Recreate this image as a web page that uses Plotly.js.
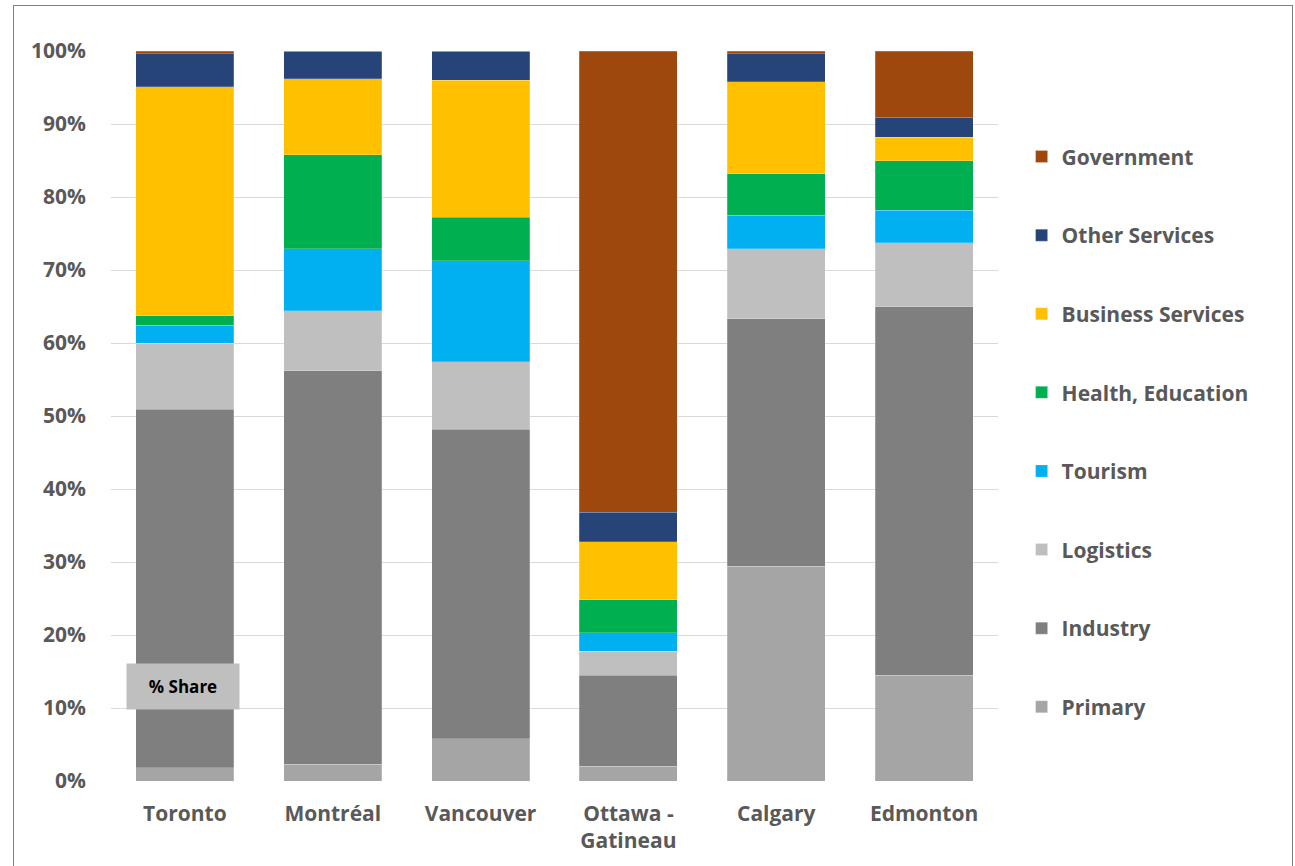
<!DOCTYPE html>
<html>
<head>
<meta charset="utf-8">
<script src="https://cdn.plot.ly/plotly-3.0.1.min.js"></script>
<style>
html,body{margin:0;padding:0;background:#fff;}
#frame{position:absolute;left:13px;top:5px;width:1280px;height:870px;border:1px solid #7f7f7f;box-sizing:border-box;pointer-events:none;z-index:10;}
#chart{position:absolute;left:0;top:0;width:1295px;height:866px;}
</style>
</head>
<body>
<div id="chart"></div>
<div id="frame"></div>
<script>
const cities = ["Toronto", "Montréal", "Vancouver", "Ottawa -<br>Gatineau", "Calgary", "Edmonton"];
const primary      = [1.8, 2.3, 5.8, 2.0, 29.4, 14.5];
const industry     = [49.1, 53.9, 42.4, 12.5, 33.9, 50.5];
const logistics    = [9.1, 8.2, 9.2, 3.3, 9.6, 8.7];
const tourism      = [2.4, 8.5, 13.9, 2.5, 4.6, 4.5];
const health       = [1.3, 12.9, 5.9, 4.5, 5.7, 6.8];
const business     = [31.4, 10.4, 18.8, 8.0, 12.6, 3.2];
const otherServ    = [4.5, 3.8, 4.0, 4.0, 3.8, 2.7];
const government   = [0.4, 0.0, 0.0, 63.2, 0.4, 9.1];

const seriesNames = ["Primary", "Industry", "Logistics", "Tourism", "Health, Education", "Business Services", "Other Services", "Government"];
const seriesData = [primary, industry, logistics, tourism, health, business, otherServ, government];
const seriesColors = ["#A5A5A5", "#7F7F7F", "#BFBFBF", "#00B0F0", "#00B050", "#FFC000", "#264478", "#9E480E"];

const traces = seriesNames.map((name, i) => ({
  type: "bar",
  name: name,
  x: cities,
  y: seriesData[i].map(v => v / 100),
  legendgroup: "g" + i,
  legendrank: 100 - i,
  marker: {color: seriesColors[i], line: {color: "rgba(255,255,255,0.35)", width: 0.6}},
  hoverinfo: "x+y+name"
}));

const FONT = "Open Sans, sans-serif";
const layout = {
  width: 1295,
  height: 866,
  margin: {l: 111, r: 297, t: 51, b: 85, pad: 0},
  paper_bgcolor: "#ffffff",
  plot_bgcolor: "#ffffff",
  barmode: "stack",
  bargap: 0.337,
  font: {family: FONT, color: "#595959"},
  xaxis: {
    type: "category",
    showgrid: false,
    zeroline: false,
    showline: false,
    ticks: "",
    tickfont: {size: 21, color: "#595959", family: FONT, weight: "bold"},
    ticklabelstandoff: 18
  },
  yaxis: {
    range: [0, 1],
    tickvals: [0, 0.1, 0.2, 0.3, 0.4, 0.5, 0.6, 0.7, 0.8, 0.9, 1.0],
    tickformat: ".0%",
    showgrid: true,
    gridcolor: "#D9D9D9",
    gridwidth: 1,
    zeroline: false,
    showline: false,
    ticks: "",
    tickfont: {size: 21, color: "#595959", family: FONT, weight: "bold"},
    ticklabelstandoff: 24
  },
  legend: {
    x: 1.0266,
    xanchor: "left",
    y: 0.883,
    yanchor: "top",
    traceorder: "grouped",
    tracegroupgap: 48.3,
    font: {size: 21, color: "#595959", family: FONT, weight: "bold"},
    itemclick: false,
    itemdoubleclick: false
  },
  annotations: [{
    xref: "paper", yref: "paper",
    x: 0.0812, y: 0.129,
    xanchor: "center", yanchor: "middle",
    text: "<b>% Share</b>",
    showarrow: false,
    bgcolor: "#BFBFBF",
    width: 104,
    height: 37,
    borderpad: 4,
    font: {size: 17, color: "#000000", family: FONT}
  }],
  showlegend: true
};

Plotly.newPlot("chart", traces, layout, {displayModeBar: false, staticPlot: true});
</script>
</body>
</html>
